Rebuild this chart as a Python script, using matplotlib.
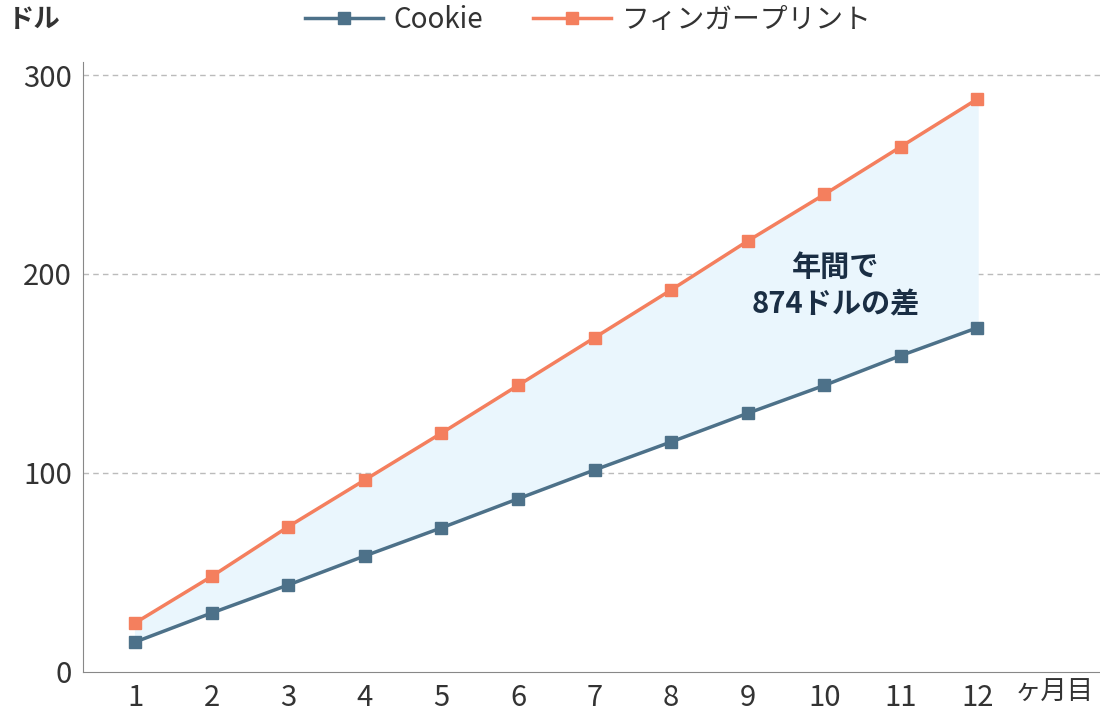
import matplotlib.pyplot as plt

plt.rcParams['font.family'] = ['Noto Sans CJK JP', 'DejaVu Sans']

months = [1, 2, 3, 4, 5, 6, 7, 8, 9, 10, 11, 12]
cookie = [15, 29.6, 43.7, 58.3, 72.4, 87, 101.5, 115.6, 130, 144, 159, 173]
fingerprint = [24.6, 48, 73, 96.5, 120, 144, 168, 192, 216.6, 240, 264, 288]
yticks = [0, 100, 200, 300]

fig = plt.figure(figsize=(11, 7.14), dpi=100)
ax = fig.add_axes([0.0755, 0.059, 0.9245, 0.854])

ax.fill_between(months, cookie, fingerprint, color='#EAF6FD', zorder=1)
ax.plot(months, cookie, color='#4D7189', lw=2.5, marker='s', ms=8, label='Cookie', zorder=3)
ax.plot(months, fingerprint, color='#F47F5E', lw=2.5, marker='s', ms=8, label='フィンガープリント', zorder=3)

ax.set_xlim(0.32, 13.6)
ax.set_ylim(0, 306.5)
ax.set_xticks(months)
ax.set_yticks(yticks)
ax.tick_params(length=0, labelsize=21, colors='#333333', pad=8)
for y in yticks[1:]:
    ax.axhline(y, color='#BBBBBB', lw=1, ls=(0, (4, 3)), zorder=0)
for s in ['top', 'right']:
    ax.spines[s].set_visible(False)
for s in ['left', 'bottom']:
    ax.spines[s].set_color('#888888')

ax.text(10.15, 194, '年間で\n874ドルの差', ha='center', va='center', fontsize=21,
        fontweight='bold', color='#1A2E44', linespacing=1.3)
fig.text(0.007, 0.972, 'ドル', fontsize=19, fontweight='bold', color='#333333', va='center')
fig.text(0.958, 0.03, 'ヶ月目', fontsize=19, color='#333333', va='center', ha='center')

fig.legend(loc='center', bbox_to_anchor=(0.535, 0.972), ncol=2, frameon=False,
           fontsize=20, handlelength=2.8, handletextpad=0.4, columnspacing=1.8,
           labelcolor='#333333')

fig.savefig('out.png')
